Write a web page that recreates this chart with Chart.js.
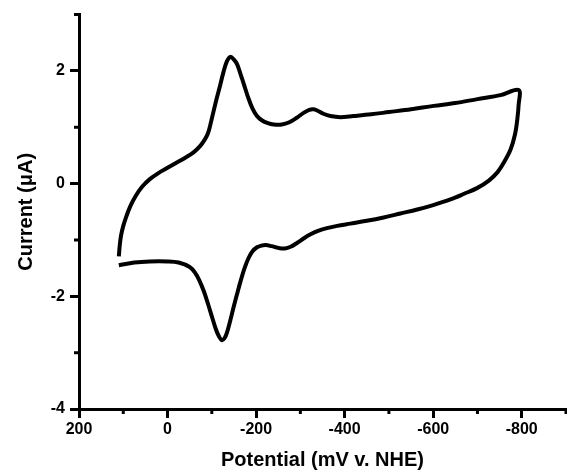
<!DOCTYPE html>
<html>
<head>
<meta charset="utf-8">
<script src="https://cdn.jsdelivr.net/npm/chart.js@4"></script>
<style>
  html, body { margin: 0; padding: 0; background: #fff; }
  #wrap { width: 567px; height: 471px; }
</style>
</head>
<body>
<div id="wrap"><canvas id="c" width="567" height="471"></canvas></div>
<script>
// Potential (mV v. NHE) and current (µA), in scan order: lower branch then upper branch
const potential = [
  110, 75, 40, 0, -25, -50, -62, -72, -82, -92, -101, -109, -116, -123, -129, -134, -141, -149, -157, -165, -174, -183, -192, -202, -212, -222, -235, -250, -265, -278, -293, -308, -323, -340, -360, -383, -413, -450, -488, -526, -564, -600, -639, -670, -699, -725, -745, -760, -775, -785, -790, -793,
  -793, -752, -700, -650, -601, -550, -500, -460, -420, -390, -368, -352, -340, -330, -320, -308, -292, -275, -258, -240, -225, -212, -202, -192, -182, -173, -165, -157, -150, -142, -134, -126, -118, -110, -102, -94, -90, -84, -74, -58, -40, -20, 0, 20, 40, 58, 72, 84, 93, 100, 105, 108, 110
];
const current = [
  -1.45, -1.40, -1.38, -1.38, -1.40, -1.48, -1.58, -1.72, -1.91, -2.15, -2.38, -2.58, -2.71, -2.78, -2.74, -2.65, -2.45, -2.20, -1.96, -1.73, -1.50, -1.32, -1.20, -1.13, -1.10, -1.09, -1.11, -1.14, -1.15, -1.12, -1.05, -0.97, -0.90, -0.84, -0.79, -0.75, -0.71, -0.66, -0.60, -0.53, -0.46, -0.38, -0.28, -0.18, -0.08, 0.05, 0.20, 0.38, 0.61, 0.88, 1.14, 1.40,
  1.66, 1.57, 1.50, 1.43, 1.38, 1.32, 1.27, 1.23, 1.20, 1.18, 1.20, 1.24, 1.29, 1.32, 1.31, 1.26, 1.17, 1.09, 1.05, 1.05, 1.08, 1.13, 1.20, 1.33, 1.53, 1.75, 1.94, 2.12, 2.20, 2.25, 2.17, 1.97, 1.72, 1.48, 1.22, 0.96, 0.87, 0.78, 0.67, 0.55, 0.46, 0.37, 0.28, 0.19, 0.08, -0.06, -0.22, -0.40, -0.58, -0.75, -0.92, -1.10, -1.29
];
const xTickLabels = [200, 0, -200, -400, -600, -800];
const xMinorTicks = [100, -100, -300, -500, -700, -900];
const yTickLabels = [-4, -2, 0, 2];
const yMinorTicks = [-3, -1, 1, 3];

const points = potential.map((p, i) => ({ x: p, y: current[i] }));

const minorTickPlugin = {
  id: 'minorTicks',
  afterDraw(chart) {
    const { ctx, chartArea, scales } = chart;
    ctx.save();
    ctx.strokeStyle = '#000';
    ctx.lineWidth = 3;
    ctx.beginPath();
    xMinorTicks.forEach(v => {
      const px = scales.x.getPixelForValue(v);
      ctx.moveTo(px, chartArea.bottom);
      ctx.lineTo(px, chartArea.bottom + 5);
    });
    yMinorTicks.forEach(v => {
      const py = scales.y.getPixelForValue(v);
      ctx.moveTo(chartArea.left, py);
      ctx.lineTo(chartArea.left - 5, py);
    });
    ctx.stroke();
    ctx.restore();
  }
};

const tickFont = { family: 'Liberation Sans, Arial, sans-serif', size: 16, weight: 'bold' };
const titleFont = { family: 'Liberation Sans, Arial, sans-serif', size: 20, weight: 'bold', lineHeight: 1 };

new Chart(document.getElementById('c'), {
  type: 'scatter',
  data: {
    datasets: [{
      data: points,
      showLine: true,
      borderColor: '#000',
      borderWidth: 4,
      pointRadius: 0,
      tension: 0.35,
      fill: false
    }]
  },
  options: {
    responsive: false,
    animation: false,
    layout: { padding: { top: 14, right: 1, left: 0, bottom: 0 } },
    plugins: { legend: { display: false }, tooltip: { enabled: false } },
    scales: {
      x: {
        type: 'linear',
        reverse: true,
        min: -900,
        max: 200,
        afterBuildTicks: s => { s.ticks = xTickLabels.map(v => ({ value: v })); },
        afterFit: s => { s.height = 62; },
        border: { display: true, color: '#000', width: 3 },
        grid: { drawOnChartArea: false, drawTicks: true, tickLength: 9, tickWidth: 3, tickColor: '#000' },
        ticks: { color: '#000', font: tickFont, padding: 2, maxRotation: 0, autoSkip: false },
        title: { display: true, text: 'Potential (mV v. NHE)', color: '#000', font: titleFont, padding: { top: 0, bottom: 1 } }
      },
      y: {
        type: 'linear',
        min: -4,
        max: 3,
        afterBuildTicks: s => { s.ticks = yTickLabels.map(v => ({ value: v })); },
        afterFit: s => { s.width = 79; },
        border: { display: true, color: '#000', width: 3 },
        grid: { drawOnChartArea: false, drawTicks: true, tickLength: 9, tickWidth: 3, tickColor: '#000' },
        ticks: { color: '#000', font: tickFont, padding: 5, autoSkip: false },
        title: { display: true, text: 'Current (\u03BCA)', color: '#000', font: titleFont, padding: { top: 16, bottom: 0 } }
      }
    }
  },
  plugins: [minorTickPlugin]
});
</script>
</body>
</html>
